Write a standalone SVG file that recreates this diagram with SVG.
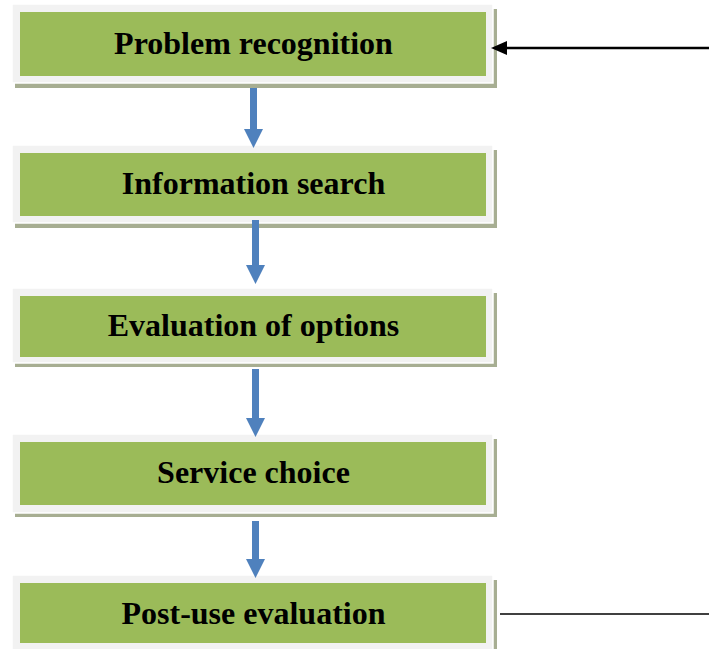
<svg xmlns="http://www.w3.org/2000/svg" width="709" height="649" viewBox="0 0 709 649">
<style>
.shadow{fill:#a7ae92}
.frame{fill:#f2f2f2;stroke:#ffffff;stroke-width:1.5}
.box{fill:#9bbb59}
.lbl{font-family:"Liberation Serif","Times New Roman",serif;font-weight:bold;font-size:32px;fill:#000;text-anchor:middle}
.blue{fill:#4f81bd}
.line{stroke:#000;fill:none}
</style>
<rect width="709" height="649" fill="#ffffff"/>
<g id="node-problem-recognition">
<rect class="shadow" x="15" y="9" width="482" height="79"/>
<rect class="frame" x="12" y="4" width="481" height="79"/>
<rect class="box" x="20" y="12" width="466" height="64"/>
<text class="lbl" x="253.5" y="54">Problem recognition</text>
</g>
<g id="node-information-search">
<rect class="shadow" x="15" y="150" width="482" height="78"/>
<rect class="frame" x="12" y="145" width="481" height="78"/>
<rect class="box" x="20" y="153" width="466" height="63"/>
<text class="lbl" x="253.5" y="194">Information search</text>
</g>
<g id="node-evaluation-of-options">
<rect class="shadow" x="15" y="293" width="482" height="74"/>
<rect class="frame" x="12" y="288" width="481" height="75"/>
<rect class="box" x="20" y="296" width="466" height="61"/>
<text class="lbl" x="253.5" y="336">Evaluation of options</text>
</g>
<g id="node-service-choice">
<rect class="shadow" x="15" y="439" width="482" height="78"/>
<rect class="frame" x="12" y="434" width="481" height="79"/>
<rect class="box" x="20" y="442" width="466" height="63"/>
<text class="lbl" x="253.5" y="483">Service choice</text>
</g>
<g id="node-post-use-evaluation">
<rect class="shadow" x="15" y="580" width="482" height="75"/>
<rect class="frame" x="12" y="575" width="481" height="80"/>
<rect class="box" x="20" y="583" width="466" height="60"/>
<text class="lbl" x="253.5" y="624">Post-use evaluation</text>
</g>
<g id="connectors">
<polygon class="blue" points="250,88 257,88 257,129 263,129 253.5,148 244,129 250,129"/>
<polygon class="blue" points="252,220 259,220 259,265 265,265 255.5,284 246,265 252,265"/>
<polygon class="blue" points="252,369 259,369 259,418 265,418 255.5,437 246,418 252,418"/>
<polygon class="blue" points="252,521 259,521 259,559 265,559 255.5,578 246,559 252,559"/>
<line class="line" x1="505" y1="48" x2="709" y2="48" stroke-width="2.5"/>
<polygon points="491,48 507,41 507,55" fill="#000"/>
<line class="line" x1="500" y1="614" x2="709" y2="614" stroke-width="1.5"/>
</g>
</svg>
